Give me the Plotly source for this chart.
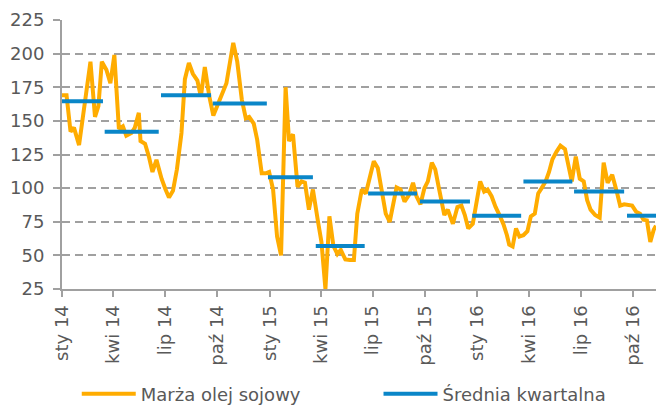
import plotly.graph_objects as go

# Weekly soybean oil crushing margin
margin_dates = [
    "2014-01-01", "2014-01-09", "2014-01-16", "2014-01-22", "2014-01-31", "2014-02-20",
    "2014-02-28", "2014-03-06", "2014-03-12", "2014-03-20", "2014-03-27", "2014-04-03",
    "2014-04-11", "2014-04-18", "2014-04-24", "2014-05-03", "2014-05-09", "2014-05-16",
    "2014-05-19", "2014-05-27", "2014-06-03", "2014-06-09", "2014-06-16", "2014-06-25",
    "2014-07-02", "2014-07-08", "2014-07-15", "2014-07-22", "2014-07-30", "2014-08-05",
    "2014-08-12", "2014-08-19", "2014-08-27", "2014-09-02", "2014-09-09", "2014-09-17",
    "2014-09-24", "2014-10-02", "2014-10-10", "2014-10-17", "2014-10-23", "2014-10-29",
    "2014-11-05", "2014-11-13", "2014-11-20", "2014-11-26", "2014-12-04", "2014-12-10",
    "2014-12-18", "2014-12-25", "2014-12-31", "2015-01-07", "2015-01-14", "2015-01-21",
    "2015-01-29", "2015-02-04", "2015-02-11", "2015-02-19", "2015-02-26", "2015-03-04",
    "2015-03-11", "2015-03-18", "2015-03-27", "2015-04-02", "2015-04-09", "2015-04-16",
    "2015-04-23", "2015-04-30", "2015-05-06", "2015-05-14", "2015-05-22", "2015-05-29",
    "2015-06-04", "2015-06-12", "2015-06-19", "2015-06-26", "2015-07-03", "2015-07-10",
    "2015-07-16", "2015-07-24", "2015-07-31", "2015-08-06", "2015-08-12", "2015-08-19",
    "2015-08-26", "2015-09-03", "2015-09-10", "2015-09-16", "2015-09-23", "2015-09-30",
    "2015-10-06", "2015-10-13", "2015-10-19", "2015-10-25", "2015-10-31", "2015-11-04",
    "2015-11-10", "2015-11-19", "2015-11-27", "2015-12-04", "2015-12-10", "2015-12-16",
    "2015-12-24", "2015-12-31", "2016-01-06", "2016-01-13", "2016-01-19", "2016-01-26",
    "2016-02-02", "2016-02-10", "2016-02-16", "2016-02-22", "2016-02-26", "2016-03-03",
    "2016-03-09", "2016-03-15", "2016-03-22", "2016-03-29", "2016-04-04", "2016-04-11",
    "2016-04-17", "2016-04-23", "2016-04-30", "2016-05-06", "2016-05-12", "2016-05-19",
    "2016-05-26", "2016-06-03", "2016-06-09", "2016-06-15", "2016-06-22", "2016-06-29",
    "2016-07-06", "2016-07-12", "2016-07-18", "2016-07-26", "2016-08-03", "2016-08-10",
    "2016-08-17", "2016-08-25", "2016-09-02", "2016-09-08", "2016-09-15", "2016-09-22",
    "2016-09-29", "2016-10-06", "2016-10-13", "2016-10-19", "2016-10-25", "2016-10-31",
    "2016-11-06", "2016-11-10",
]
margin_values = [
    169, 169, 142, 145, 132, 194,
    153, 161, 194, 188, 178, 199,
    144, 146, 139, 141, 145, 156,
    135, 133, 123, 112, 121, 107,
    99, 93, 98, 114, 141, 181,
    193, 185, 180, 168, 190, 168,
    154, 163, 170, 178, 193, 208,
    194, 166, 152, 153, 148, 136,
    111, 111, 112, 99, 64, 50,
    175, 135, 140, 101, 105, 104,
    84, 99, 75, 60, 25, 79,
    57, 51, 54, 47, 46.5, 46.5,
    81, 99, 96, 109, 120, 115,
    99, 81, 75, 89, 100.5, 99,
    90, 95, 104, 94, 88, 100,
    105, 119, 114, 101, 90, 80,
    84, 73.5, 86, 87, 80, 70,
    73.5, 89, 105, 97.5, 99, 94,
    86, 79, 73, 65, 58, 56.6,
    70, 64, 65, 68, 79, 81,
    96, 100, 105, 112, 121.5, 127,
    131.6, 129, 117, 105, 123.5, 107,
    105, 91, 84, 80, 78, 119,
    104, 110, 97.5, 87, 88, 87.5,
    87, 82.5, 81, 76.5, 76, 60,
    69, 72,
]

# Quarterly averages: first week, last week, mean
quarter_start = [
    "2014-01-01", "2014-03-17", "2014-06-24", "2014-09-23",
    "2014-12-29", "2015-03-23", "2015-06-23", "2015-09-22",
    "2015-12-23", "2016-03-22", "2016-06-19", "2016-09-20",
]
quarter_end = [
    "2014-03-14", "2014-06-20", "2014-09-20", "2014-12-27",
    "2015-03-18", "2015-06-17", "2015-09-17", "2015-12-19",
    "2016-03-18", "2016-06-16", "2016-09-15", "2016-11-10",
]
quarter_mean = [164.5, 142, 169, 163, 108, 57, 96, 90, 79.5, 105, 97.5, 79.5]

# Axis ticks
tick_dates = [
    "2014-01-01", "2014-04-01", "2014-07-01", "2014-10-01",
    "2015-01-01", "2015-04-01", "2015-07-01", "2015-10-01",
    "2016-01-01", "2016-04-01", "2016-07-01", "2016-10-01",
]
tick_labels = [
    "sty 14", "kwi 14", "lip 14", "paź 14",
    "sty 15", "kwi 15", "lip 15", "paź 15",
    "sty 16", "kwi 16", "lip 16", "paź 16",
]

ORANGE = "#FFAC00"
BLUE = "#0A86C8"
TEXT = "#595959"
AXIS = "#a0a0a0"

avg_x, avg_y = [], []
for s, e, v in zip(quarter_start, quarter_end, quarter_mean):
    avg_x += [s, e, None]
    avg_y += [v, v, None]

fig = go.Figure()
fig.add_trace(go.Scatter(
    x=margin_dates, y=margin_values, mode="lines",
    name="Marża olej sojowy",
    line=dict(color=ORANGE, width=4),
    legend="legend",
))
fig.add_trace(go.Scatter(
    x=avg_x, y=avg_y, mode="lines",
    name="Średnia kwartalna",
    line=dict(color=BLUE, width=4),
    connectgaps=False,
    legend="legend2",
))

legend_common = dict(
    orientation="h",
    xref="container", yref="container",
    xanchor="left", yanchor="middle",
    y=0.027,
    itemwidth=54,
    font=dict(family="DejaVu Sans", size=18, color=TEXT),
    bgcolor="rgba(0,0,0,0)",
)

fig.update_layout(
    template="none",
    width=656, height=405,
    margin=dict(l=62, r=0, t=20, b=116),
    paper_bgcolor="white", plot_bgcolor="white",
    font=dict(family="DejaVu Sans", size=18, color=TEXT),
    showlegend=True,
    legend=dict(x=0.117, **legend_common),
    legend2=dict(x=0.577, **legend_common),
)

fig.update_xaxes(
    type="date",
    range=["2014-01-01", "2016-11-10"],
    tickmode="array", tickvals=tick_dates, ticktext=tick_labels,
    tickangle=-90,
    ticks="outside", ticklen=6, tickwidth=1.5, tickcolor=AXIS,
    ticklabelstandoff=1,
    showline=True, linecolor=AXIS, linewidth=2,
    showgrid=False, zeroline=False, automargin=False,
    tickfont=dict(size=18, color=TEXT),
)
fig.update_yaxes(
    range=[25, 225], dtick=25, tick0=25,
    ticks="outside", ticklen=7, tickwidth=1.5, tickcolor=AXIS,
    ticklabelstandoff=5,
    showline=True, linecolor=AXIS, linewidth=2,
    showgrid=True, gridcolor=AXIS, gridwidth=1.5, griddash="8px,5px",
    zeroline=False, automargin=False,
    tickfont=dict(size=18, color=TEXT),
)

fig.write_html("out.html")
